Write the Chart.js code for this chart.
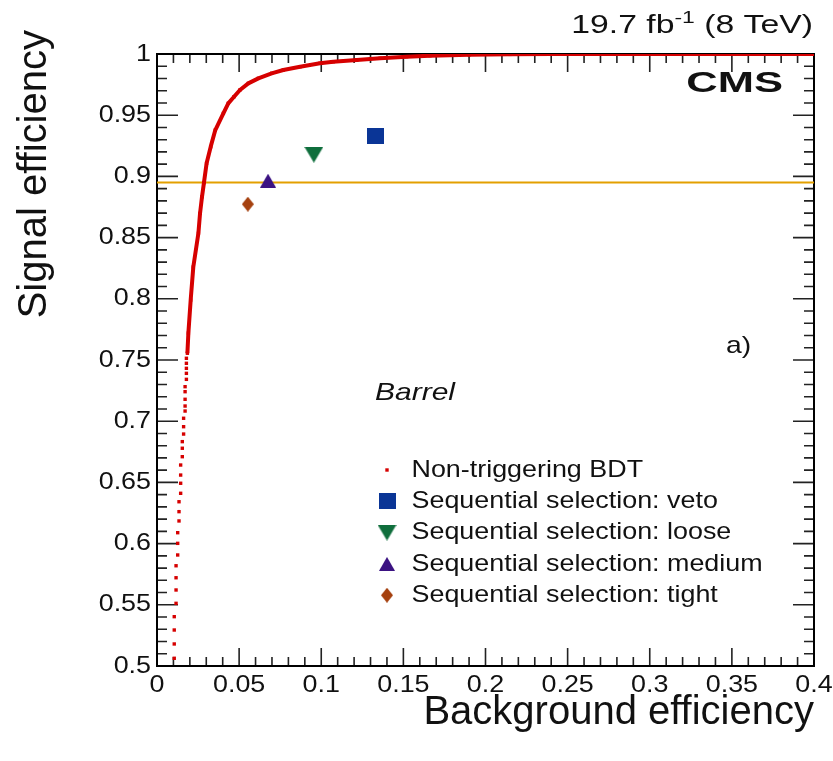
<!DOCTYPE html>
<html>
<head>
<meta charset="utf-8">
<script src="https://cdn.jsdelivr.net/npm/chart.js@4.4.1/dist/chart.umd.min.js"></script>
<style>
  html, body { margin: 0; padding: 0; background: #fff; }
  #roc { display: block; }
</style>
</head>
<body>
<canvas id="roc" width="833" height="761"></canvas>
<script>
// non-triggering BDT: background efficiency vs signal efficiency
const bdtBkgEff = [
  0.0105, 0.0105, 0.0105, 0.0105, 0.0116, 0.0116, 0.0116, 0.0116, 0.0126, 0.0126,
  0.0126, 0.0134, 0.0134, 0.0134, 0.0144, 0.0144, 0.0144, 0.0144, 0.0154, 0.0154,
  0.0154, 0.0162, 0.0162, 0.0162, 0.0171, 0.0171, 0.0171, 0.0171, 0.0171, 0.0179,
  0.0179, 0.0179, 0.0179, 0.0179,
  0.0185, 0.0191, 0.0205, 0.0221, 0.0252, 0.0262, 0.0274, 0.0286, 0.0302, 0.0327,
  0.0355, 0.0404, 0.0434, 0.0469, 0.0505, 0.0556, 0.0617, 0.0698, 0.0769, 0.0871,
  0.0992, 0.1073, 0.1216, 0.1358, 0.1520, 0.1662, 0.19, 0.215, 0.24, 0.30, 0.40
];
const bdtSigEff = [
  0.5063, 0.5180, 0.5294, 0.5403, 0.5512, 0.5621, 0.5721, 0.5819, 0.5907, 0.6002,
  0.6089, 0.6185, 0.6261, 0.6342, 0.6411, 0.6493, 0.6560, 0.6642, 0.6710, 0.6779,
  0.6833, 0.6895, 0.6955, 0.7024, 0.7083, 0.7124, 0.7179, 0.7241, 0.7282, 0.7342,
  0.7391, 0.7432, 0.7473, 0.7514,
  0.7555, 0.772, 0.799, 0.826, 0.8535, 0.8698, 0.8834, 0.8949, 0.9107, 0.9243,
  0.9379, 0.9515, 0.9597, 0.9651, 0.9706, 0.9760, 0.9801, 0.9842, 0.9869, 0.9896,
  0.9924, 0.9937, 0.9951, 0.9965, 0.9978, 0.9986, 0.9993, 0.9997, 1.0, 1.0, 1.0
];
// below this signal efficiency the scan points are sparse and drawn as dots only
const bdtSolidFrom = 0.755;

// sequential selection working points
const wpNames = ['veto', 'loose', 'medium', 'tight'];
const wpBkgEff = [0.1330, 0.0955, 0.0676, 0.0553];
const wpSigEff = [0.9328, 0.9177, 0.8965, 0.8773];

// horizontal reference line
const refLineEff = 0.895;

const xTickValues = [0, 0.05, 0.1, 0.15, 0.2, 0.25, 0.3, 0.35, 0.4];
const xTickLabels = ['0', '0.05', '0.1', '0.15', '0.2', '0.25', '0.3', '0.35', '0.4'];
const yTickValues = [0.5, 0.55, 0.6, 0.65, 0.7, 0.75, 0.8, 0.85, 0.9, 0.95, 1];
const yTickLabels = ['0.5', '0.55', '0.6', '0.65', '0.7', '0.75', '0.8', '0.85', '0.9', '0.95', '1'];

const FONT = "'Liberation Sans', Arial, Helvetica, sans-serif";
const RED = '#d60000';

// ROOT-like filled markers
function marker(w, h, color, shape) {
  const c = document.createElement('canvas');
  c.width = w; c.height = h;
  const g = c.getContext('2d');
  g.fillStyle = color;
  g.beginPath();
  if (shape === 'square') {
    g.rect(0, 0, w, h);
  } else if (shape === 'up') {
    g.moveTo(w / 2, 0); g.lineTo(w, h); g.lineTo(0, h);
  } else if (shape === 'down') {
    g.moveTo(0, 0); g.lineTo(w, 0); g.lineTo(w / 2, h);
  } else {
    g.moveTo(w / 2, 0); g.lineTo(w, h / 2); g.lineTo(w / 2, h); g.lineTo(0, h / 2);
  }
  g.closePath();
  g.fill();
  return c;
}
const wpColors = ['#0a3596', '#0f6e3c', '#3b1282', '#a5410f'];
const wpMarkers = [
  marker(17, 16, wpColors[0], 'square'),
  marker(19, 16, wpColors[1], 'down'),
  marker(16, 14, wpColors[2], 'up'),
  marker(12, 15, wpColors[3], 'diamond')
];

const datasets = [];
wpNames.forEach((name, i) => {
  datasets.push({
    label: 'Sequential selection: ' + name,
    data: [{x: wpBkgEff[i], y: wpSigEff[i]}],
    pointStyle: wpMarkers[i],
    pointRadius: 8,
    backgroundColor: wpColors[i]
  });
});
datasets.unshift({
  label: 'Non-triggering BDT',
  data: bdtBkgEff.map((x, i) => ({x: x, y: bdtSigEff[i]})),
  showLine: true,
  borderColor: RED,
  borderWidth: 4,
  borderJoinStyle: 'round',
  pointStyle: 'rect',
  pointRadius: 2.4,
  pointBorderWidth: 0,
  backgroundColor: RED,
  segment: {
    borderColor: c => c.p0.parsed.y < bdtSolidFrom ? 'rgba(0,0,0,0)' : undefined
  }
});
datasets.push({
  label: '',
  data: [{x: 0, y: refLineEff}, {x: 0.4, y: refLineEff}],
  showLine: true,
  borderColor: '#e3a000',
  borderWidth: 2,
  pointRadius: 0
});

function stretchText(ctx, text, x, y, font, sx, align, baseline) {
  ctx.save();
  ctx.font = font;
  ctx.textAlign = align;
  ctx.textBaseline = baseline;
  ctx.translate(x, y);
  ctx.scale(sx, 1);
  ctx.fillText(text, 0, 0);
  ctx.restore();
}

// frame with ticks on all four sides
const frameTicks = {
  id: 'frameTicks',
  beforeDatasetsDraw(chart) {
    const {ctx, chartArea: a, scales: {x, y}} = chart;
    ctx.save();
    ctx.strokeStyle = '#222';
    ctx.lineWidth = 1.6;
    ctx.beginPath();
    for (let i = 0; i <= 40; i++) {
      const px = x.getPixelForValue(i / 100);
      const len = i % 5 === 0 ? 18 : 9;
      ctx.moveTo(px, a.bottom); ctx.lineTo(px, a.bottom - len);
      ctx.moveTo(px, a.top); ctx.lineTo(px, a.top + len);
    }
    for (let i = 50; i <= 100; i++) {
      const py = y.getPixelForValue(i / 100);
      const len = i % 5 === 0 ? 21 : 10;
      ctx.moveTo(a.left, py); ctx.lineTo(a.left + len, py);
      ctx.moveTo(a.right, py); ctx.lineTo(a.right - len, py);
    }
    ctx.stroke();
    ctx.strokeStyle = '#000';
    ctx.lineWidth = 2;
    ctx.strokeRect(a.left, a.top, a.right - a.left, a.bottom - a.top);
    ctx.restore();
  }
};

// tick labels, titles, legend and annotations
const labels = {
  id: 'labels',
  afterDraw(chart) {
    const {ctx, chartArea: a, scales: {x, y}} = chart;
    ctx.save();
    ctx.fillStyle = '#111';
    xTickValues.forEach((v, i) => {
      stretchText(ctx, xTickLabels[i], x.getPixelForValue(v), a.bottom + 19, '24px ' + FONT, 1.12, 'center', 'middle');
    });
    yTickValues.forEach((v, i) => {
      stretchText(ctx, yTickLabels[i], a.left - 6, y.getPixelForValue(v), '24px ' + FONT, 1.12, 'right', 'middle');
    });

    // y axis title
    ctx.save();
    ctx.font = '40px ' + FONT;
    ctx.textAlign = 'right';
    ctx.textBaseline = 'middle';
    ctx.translate(35, 30);
    ctx.rotate(-Math.PI / 2);
    ctx.fillText('Signal efficiency', 0, 0);
    ctx.restore();

    // luminosity label with superscript
    const sx = 1.35;
    ctx.save();
    ctx.font = '25px ' + FONT;
    const w1 = ctx.measureText('19.7 fb').width;
    const w3 = ctx.measureText(' (8 TeV)').width;
    ctx.font = '17px ' + FONT;
    const w2 = ctx.measureText('-1').width;
    ctx.translate(a.right - 1 - (w1 + w2 + w3) * sx, 33);
    ctx.scale(sx, 1);
    ctx.textBaseline = 'alphabetic';
    ctx.font = '25px ' + FONT;
    ctx.fillText('19.7 fb', 0, 0);
    ctx.fillText(' (8 TeV)', w1 + w2, 0);
    ctx.font = '17px ' + FONT;
    ctx.fillText('-1', w1, -10);
    ctx.restore();

    stretchText(ctx, 'CMS', 783, 92, 'bold 29px ' + FONT, 1.5, 'right', 'alphabetic');
    stretchText(ctx, 'a)', 726, 353, '24px ' + FONT, 1.18, 'left', 'alphabetic');
    stretchText(ctx, 'Barrel', 375, 393, 'italic 24px ' + FONT, 1.25, 'left', 'middle');

    // legend
    const items = chart.data.datasets.filter(d => d.label);
    items.forEach((d, i) => {
      const ry = 470 + i * 31.3;
      ctx.fillStyle = d.backgroundColor;
      Chart.helpers.drawPoint(ctx, {pointStyle: d.pointStyle, radius: d.pointRadius, rotation: 0, borderWidth: 0}, 387, ry);
      ctx.fillStyle = '#111';
      stretchText(ctx, d.label, 411.5, ry, '24px ' + FONT, 1.12, 'left', 'middle');
    });
    ctx.restore();
  }
};

new Chart(document.getElementById('roc'), {
  type: 'scatter',
  data: { datasets: datasets },
  options: {
    responsive: false,
    animation: false,
    devicePixelRatio: 1,
    layout: { padding: { left: 0, right: 19, top: 54, bottom: 0 } },
    plugins: { legend: { display: false }, tooltip: { enabled: false } },
    scales: {
      x: {
        type: 'linear', min: 0, max: 0.4,
        grid: { display: false, drawTicks: false },
        border: { display: false },
        ticks: { display: false },
        title: {
          display: true, text: 'Background efficiency', align: 'end', color: '#111',
          font: { family: FONT, size: 40 }, padding: { top: 0, bottom: 24 }
        },
        afterFit: s => { s.height = 95; }
      },
      y: {
        type: 'linear', min: 0.5, max: 1,
        grid: { display: false, drawTicks: false },
        border: { display: false },
        ticks: { display: false },
        afterFit: s => { s.width = 157; }
      }
    }
  },
  plugins: [frameTicks, labels]
});
</script>
</body>
</html>
